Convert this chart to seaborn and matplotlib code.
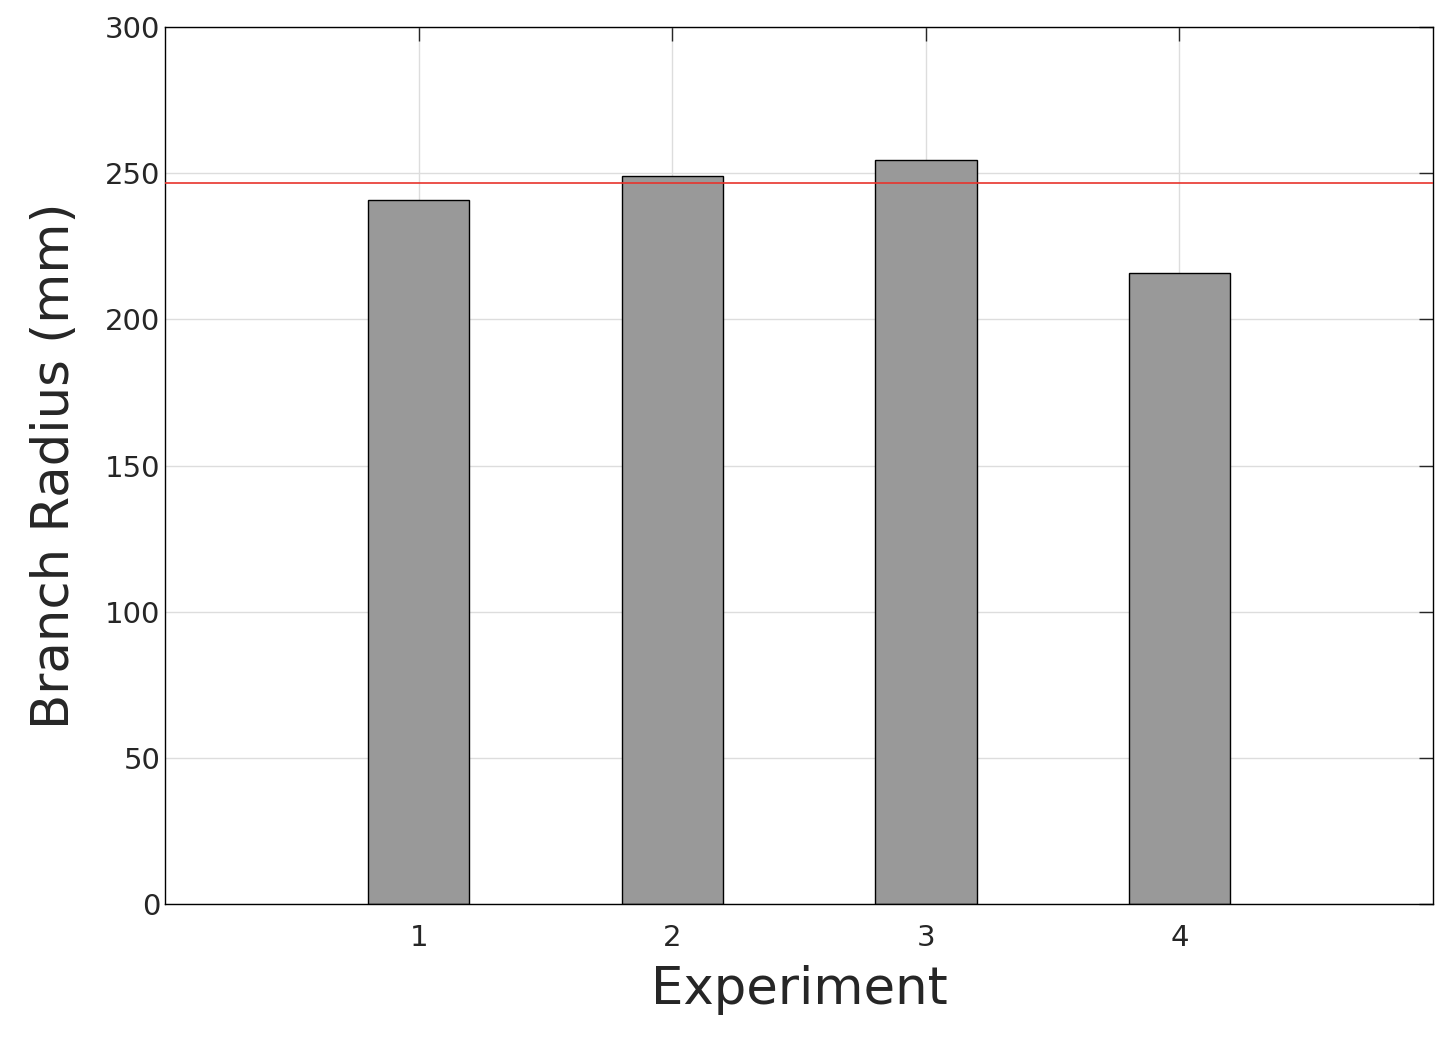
import matplotlib
matplotlib.use("Agg")
import matplotlib.pyplot as plt
import seaborn as sns
import pandas as pd

experiments = [1, 2, 3, 4]
radius = [240.8, 249.0, 254.5, 215.9]
reference_line = 246.6

sns.set_style("white")
plt.rcParams['font.family'] = ['DejaVu Sans']

df = pd.DataFrame({"Experiment": experiments, "Radius": radius})
fig = plt.figure(figsize=(14.48, 10.44), dpi=100)
ax = fig.add_axes([0.114, 0.134, 0.8756, 0.840])
sns.barplot(data=df, x="Experiment", y="Radius", native_scale=True, width=0.4,
            color="#999999", saturation=1, edgecolor="black", linewidth=1, ax=ax, zorder=2)
ax.axhline(reference_line, color="#e8342c", lw=1.2, zorder=3)
ax.set_xlim(0, 5)
ax.set_ylim(0, 300)
ax.set_xticks(experiments)
ax.set_yticks(range(0, 301, 50))
ax.grid(True, color="#dddddd", lw=1, zorder=0)
ax.set_axisbelow(True)
ax.tick_params(direction="in", length=10, labelsize=21, top=True, right=True,
               labelcolor="#262626", width=1)
ax.tick_params(axis="x", pad=14)
for s in ax.spines.values():
    s.set_color("black"); s.set_linewidth(1); s.set_visible(True)
ax.set_xlabel("Experiment", fontsize=37, color="#262626", labelpad=10)
ax.set_ylabel("Branch Radius (mm)", fontsize=37, color="#262626", labelpad=18)
fig.savefig("out.png", dpi=100)
